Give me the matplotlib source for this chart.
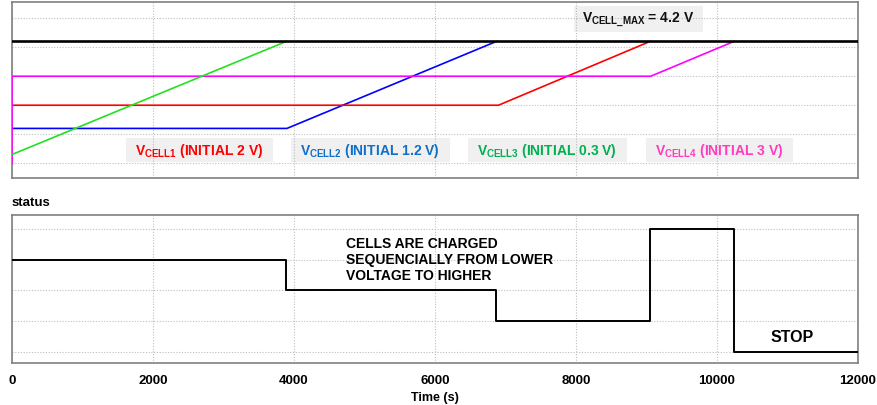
#!/usr/bin/env python3
import matplotlib
matplotlib.use("Agg")
import matplotlib.pyplot as plt
from matplotlib.patches import Rectangle

# cell voltages (time in s, voltage in V)
cell1_t = [0, 6900, 9050]
cell1_v = [2.0, 2.0, 4.2]
cell2_t = [0, 3900, 6870]
cell2_v = [1.2, 1.2, 4.2]
cell3_t = [0, 3890]
cell3_v = [0.3, 4.2]
cell4_t = [0, 0, 9060, 10240]
cell4_v = [0.0, 3.0, 3.0, 4.2]
vmax_t = [0, 12000]
vmax_v = [4.2, 4.2]

# charger status (step, held until next time)
status_t = [0, 3890, 6870, 9050, 10240, 12000]
status_v = [3, 2, 1, 4, 0, 0]

xticks = [0, 2000, 4000, 6000, 8000, 10000, 12000]

plt.rcParams["font.family"] = ["Liberation Sans", "DejaVu Sans"]
plt.rcParams["font.weight"] = "bold"
plt.rcParams["mathtext.fontset"] = "custom"
plt.rcParams["mathtext.rm"] = "Liberation Sans:bold"
plt.rcParams["mathtext.bf"] = "Liberation Sans:bold"

W, H = 877, 406
fig = plt.figure(figsize=(W / 100, H / 100), dpi=100)


def px_axes(left, top, right, bottom):
    return fig.add_axes([left / W, 1 - bottom / H, (right - left) / W, (bottom - top) / H])


ax_v = px_axes(12, 3.3, 858, 179)
ax_s = px_axes(12, 215.7, 858, 364.3)

grid_kw = dict(color="#bdbdbd", lw=0.8, ls=(0, (1, 1.5)))
for ax in (ax_v, ax_s):
    ax.set_xlim(0, 12000)
    ax.set_xticks(xticks)
    ax.grid(True, **grid_kw)
    ax.tick_params(length=0)
    ax.set_yticklabels([])
    for sp in ax.spines.values():
        sp.set_color("#808080")
        sp.set_linewidth(1.2)

# voltage panel
ax_v.set_ylim(-0.51, 5.55)
ax_v.set_yticks([0, 1, 2, 3, 4, 5])
ax_v.set_xticklabels([])
ax_v.plot(cell2_t, cell2_v, color="#0000ff", lw=1.2, zorder=3)
ax_v.plot(cell1_t, cell1_v, color="#ff0000", lw=1.2, zorder=3)
ax_v.plot(cell4_t, cell4_v, color="#ff00ff", lw=1.2, zorder=3)
ax_v.plot(cell3_t, cell3_v, color="#22e022", lw=1.2, zorder=3)
ax_v.plot(vmax_t, vmax_v, color="black", lw=1.9, zorder=4)

box_bg = "#f0f0f0"
labels = [
    (r"$\mathrm{V}_{\mathrm{CELL\_MAX}}$ = 4.2 V", "#111111", 8880, 4.98, (7972, 9801), (4.52, 5.41)),
    (r"$\mathrm{V}_{\mathrm{CELL1}}$ (INITIAL 2 V)", "#ff0000", 2655, 0.45, (1617, 3698), (0.055, 0.87)),
    (r"$\mathrm{V}_{\mathrm{CELL2}}$ (INITIAL 1.2 V)", "#1070c8", 5080, 0.45, (3957, 6213), (0.055, 0.87)),
    (r"$\mathrm{V}_{\mathrm{CELL3}}$ (INITIAL 0.3 V)", "#00b050", 7590, 0.45, (6465, 8719), (0.055, 0.87)),
    (r"$\mathrm{V}_{\mathrm{CELL4}}$ (INITIAL 3 V)", "#ff3cc0", 10030, 0.45, (8993, 11073), (0.055, 0.87)),
]
for txt, col, tx, ty, (bx0, bx1), (by0, by1) in labels:
    ax_v.add_patch(Rectangle((bx0, by0), bx1 - bx0, by1 - by0, facecolor=box_bg,
                             edgecolor="none", zorder=1))
    ax_v.text(tx, ty, txt, color=col, fontsize=10, fontweight="bold",
              ha="center", va="center", zorder=5)

# status panel
ax_s.set_ylim(-0.38, 4.46)
ax_s.set_yticks([0, 1, 2, 3, 4])
ax_s.step(status_t, status_v, where="post", color="black", lw=1.4, zorder=3)
ax_s.tick_params(axis="x", pad=8, labelsize=9.5)
for lab in ax_s.get_xticklabels():
    lab.set_fontweight("bold")
ax_s.set_xlabel("Time (s)", fontsize=9, fontweight="bold", labelpad=3)
ax_s.text(0, 1.0875, "status", transform=ax_s.transAxes, fontsize=9.5,
          fontweight="bold", ha="left", va="center")
ax_s.text(4740, 3.02, "CELLS ARE CHARGED\nSEQUENCIALLY FROM LOWER\nVOLTAGE TO HIGHER",
          fontsize=10, fontweight="bold", ha="left", va="center", linespacing=1.2)
ax_s.text(11064, 0.5, "STOP", fontsize=11.5, fontweight="bold", ha="center", va="center")

fig.savefig("out.png", dpi=100)
plt.close(fig)
